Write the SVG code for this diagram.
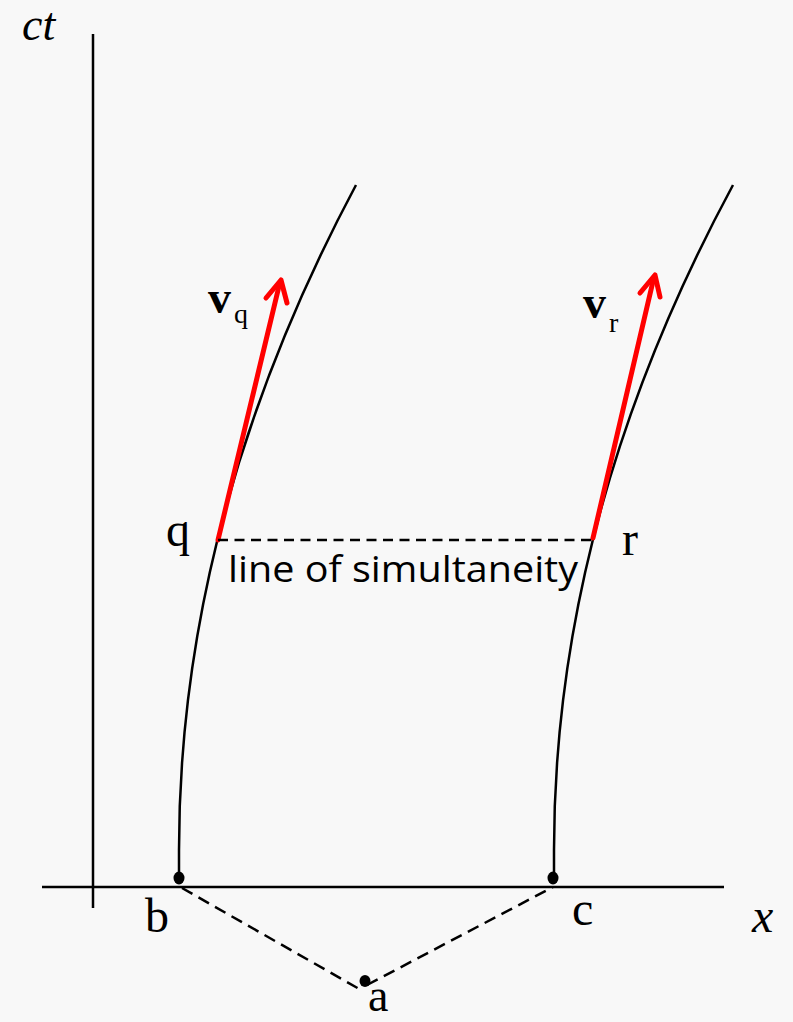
<svg xmlns="http://www.w3.org/2000/svg" width="793" height="1022" viewBox="0 0 793 1022">
<style>
.ax{stroke:#000;stroke-width:2.5;fill:none}
.wl{stroke:#000;stroke-width:2.5;fill:none}
.dash{stroke:#000;stroke-width:2.5;fill:none;stroke-dasharray:10 6.5}
.dash2{stroke:#000;stroke-width:2.5;fill:none;stroke-dasharray:12 7}
.vel{stroke:#ff0000;stroke-width:5;fill:none;stroke-linecap:round;stroke-linejoin:round}
.dot{fill:#000}
.serif{font-family:"Liberation Serif","Times New Roman",serif;fill:#000}
.sans{font-family:"Open Sans","Noto Sans",sans-serif;fill:#000}
</style>
<rect width="793" height="1022" fill="#f8f8f8"/>
<g id="axes">
<line class="ax" x1="93" y1="34" x2="93" y2="908"/>
<line class="ax" x1="42" y1="887" x2="724" y2="887"/>
<text class="serif" x="22" y="40" font-size="46" font-style="italic">ct</text>
<text class="serif" x="752" y="932" font-size="48" font-style="italic">x</text>
</g>
<g id="worldline-q">
<path class="wl" d="M179,878 L179,850 Q179,517 356,185"/>
<ellipse class="dot" cx="179" cy="878" rx="5.5" ry="6.5"/>
<text class="serif" x="145" y="932" font-size="48">b</text>
<text class="serif" x="166" y="546" font-size="48">q</text>
</g>
<g id="worldline-r">
<path class="wl" d="M554,878 L554,850 Q554,517 733,185"/>
<ellipse class="dot" cx="553" cy="878" rx="5.5" ry="6.5"/>
<text class="serif" x="572" y="925" font-size="48">c</text>
<text class="serif" x="622" y="555" font-size="48">r</text>
</g>
<g id="event-a">
<ellipse class="dot" cx="365" cy="981" rx="5.5" ry="6"/>
<text class="serif" x="368" y="1011" font-size="46">a</text>
</g>
<g id="velocity-q">
<line class="vel" x1="218" y1="540" x2="280" y2="282"/>
<polyline class="vel" points="266,298 281,280 287,303"/>
<text class="serif" x="208" y="313" font-size="46" font-weight="bold">v</text>
<text class="serif" x="234" y="323" font-size="28">q</text>
</g>
<g id="velocity-r">
<line class="vel" x1="593" y1="538" x2="654" y2="277"/>
<polyline class="vel" points="640,293 655,275 660,297"/>
<text class="serif" x="583" y="318" font-size="46" font-weight="bold">v</text>
<text class="serif" x="609" y="332" font-size="28">r</text>
</g>
<g id="connectors">
<line class="dash" x1="218" y1="540" x2="593" y2="540"/>
<line class="dash2" x1="182" y1="888" x2="361" y2="990"/>
<line class="dash2" x1="367" y1="985" x2="553" y2="887"/>
</g>
<text class="sans" x="228" y="582" font-size="36" textLength="350" lengthAdjust="spacingAndGlyphs">line of simultaneity</text>
</svg>
